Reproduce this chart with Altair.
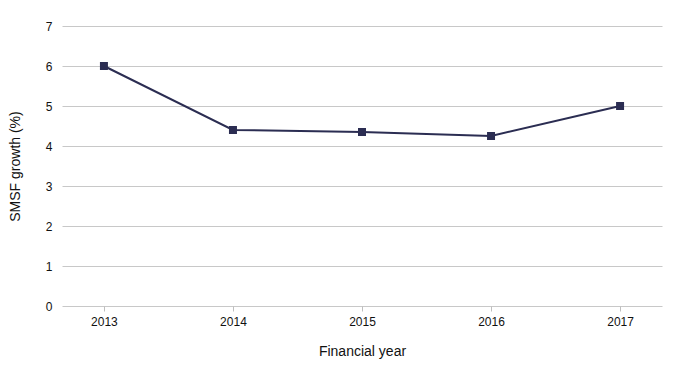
import altair as alt
import pandas as pd

years = ["2013", "2014", "2015", "2016", "2017"]
growth = [6.0, 4.4, 4.35, 4.25, 5.0]

df = pd.DataFrame({"year": years, "growth": growth})

x = alt.X("year:O", title="Financial year",
          scale=alt.Scale(type="point", padding=0.325),
          axis=alt.Axis(labelAngle=0, domain=False, ticks=True, tickColor="#bfbfbf",
                        tickSize=5, labelPadding=5, titlePadding=17, grid=False))
y = alt.Y("growth:Q", title="SMSF growth (%)",
          scale=alt.Scale(domain=[0, 7], nice=False),
          axis=alt.Axis(values=[0, 1, 2, 3, 4, 5, 6, 7], domain=False, ticks=False,
                        labelPadding=10, titlePadding=23, gridColor="#c8c8c8"))

line = alt.Chart(df).mark_line(color="#2b2d52", strokeWidth=2).encode(x=x, y=y)
pts = alt.Chart(df).mark_square(color="#2b2d52", size=64, opacity=1).encode(x=x, y=y)

chart = (line + pts).properties(
    width=600, height=280,
    autosize=alt.AutoSizeParams(type="none"),
    padding={"left": 54, "top": 18, "right": 11, "bottom": 54},
).configure_view(stroke=None).configure_axis(
    labelFont="Liberation Sans", titleFont="Liberation Sans",
    labelFontSize=12, titleFontSize=14, labelColor="#111111", titleColor="#111111",
    titleFontWeight="normal",
)

chart.save("out.html", embed_options={"renderer": "svg", "actions": False})
